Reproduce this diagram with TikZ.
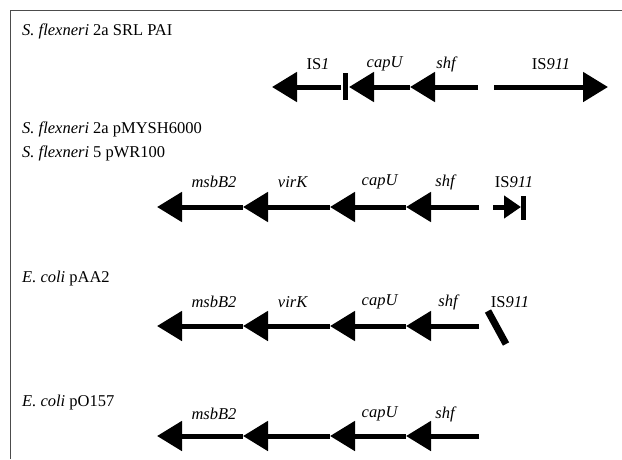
\documentclass[tikz,border=0pt]{standalone}
\usepackage{fontspec}
\setmainfont{Liberation Serif}
\usetikzlibrary{arrows.meta}
\begin{document}
\begin{tikzpicture}[x=1pt,y=-1pt,
  gene/.style={line width=5pt,-{Triangle[length=25pt,width=29pt]}},
  smallgene/.style={line width=5pt,-{Triangle[length=17pt,width=22pt]}},
  barmark/.style={line width=5pt},
  lbl/.style={font=\fontsize{16.5}{19}\selectfont, inner sep=0pt},
  ttl/.style={font=\fontsize{16.5}{19}\selectfont, anchor=west, inner sep=0pt},
  frameline/.style={line width=0.8pt, black!70}]
\useasboundingbox (0,0) rectangle (622,459);
\coordinate (fa) at (10,459); \coordinate (fb) at (10,10); \coordinate (fc) at (622,10);
\draw[frameline] (fa) -- (fb) -- (fc);

% Row 1
\node[ttl] (t1) at (22,31) {\textit{S. flexneri} 2a SRL PAI};
\coordinate (r1a) at (341,87); \coordinate (r1b) at (272,87);
\coordinate (r1c1) at (345.5,73); \coordinate (r1c2) at (345.5,100);
\coordinate (r1d) at (410,87); \coordinate (r1e) at (349,87);
\coordinate (r1f) at (478,87);
\coordinate (r1g) at (494,87); \coordinate (r1h) at (608,87);
\draw[gene] (r1a) -- (r1b);
\draw[barmark] (r1c1) -- (r1c2);
\draw[gene] (r1d) -- (r1e);
\draw[gene] (r1f) -- (r1d);
\draw[gene] (r1g) -- (r1h);
\node[lbl] (l1a) at (318,64) {IS\textit{1}};
\node[lbl] (l1b) at (385,64) {\textit{capU}};
\node[lbl] (l1c) at (447,64) {\textit{shf}};
\node[lbl] (l1d) at (551,64) {IS\textit{911}};

% Row 2
\node[ttl] (t2a) at (22,129) {\textit{S. flexneri} 2a pMYSH6000};
\node[ttl] (t2b) at (22,153) {\textit{S. flexneri} 5 pWR100};
\coordinate (r2a) at (157,207); \coordinate (r2b) at (243,207);
\coordinate (r2c) at (330,207); \coordinate (r2d) at (406,207);
\coordinate (r2e) at (479,207);
\coordinate (r2f) at (493,207); \coordinate (r2g) at (521,207);
\coordinate (r2h1) at (523.5,196); \coordinate (r2h2) at (523.5,220);
\draw[gene] (r2b) -- (r2a);
\draw[gene] (r2c) -- (r2b);
\draw[gene] (r2d) -- (r2c);
\draw[gene] (r2e) -- (r2d);
\draw[smallgene] (r2f) -- (r2g);
\draw[barmark] (r2h1) -- (r2h2);
\node[lbl] (l2a) at (214,182) {\textit{msbB2}};
\node[lbl] (l2b) at (293,182) {\textit{virK}};
\node[lbl] (l2c) at (380,182) {\textit{capU}};
\node[lbl] (l2d) at (446,182) {\textit{shf}};
\node[lbl] (l2e) at (514,182) {IS\textit{911}};

% Row 3
\node[ttl] (t3) at (22,279) {\textit{E. coli} pAA2};
\coordinate (r3a) at (157,326); \coordinate (r3b) at (243,326);
\coordinate (r3c) at (330,326); \coordinate (r3d) at (406,326);
\coordinate (r3e) at (479,326);
\coordinate (r3f) at (488,311); \coordinate (r3g) at (506,344);
\draw[gene] (r3b) -- (r3a);
\draw[gene] (r3c) -- (r3b);
\draw[gene] (r3d) -- (r3c);
\draw[gene] (r3e) -- (r3d);
\draw[line width=7pt] (r3f) -- (r3g);
\node[lbl] (l3a) at (214,302) {\textit{msbB2}};
\node[lbl] (l3b) at (293,302) {\textit{virK}};
\node[lbl] (l3c) at (380,302) {\textit{capU}};
\node[lbl] (l3d) at (449,302) {\textit{shf}};
\node[lbl] (l3e) at (510,302) {IS\textit{911}};

% Row 4
\node[ttl] (t4) at (22,403) {\textit{E. coli} pO157};
\coordinate (r4a) at (157,436); \coordinate (r4b) at (243,436);
\coordinate (r4c) at (330,436); \coordinate (r4d) at (406,436);
\coordinate (r4e) at (479,436);
\draw[gene] (r4b) -- (r4a);
\draw[gene] (r4c) -- (r4b);
\draw[gene] (r4d) -- (r4c);
\draw[gene] (r4e) -- (r4d);
\node[lbl] (l4a) at (214,414) {\textit{msbB2}};
\node[lbl] (l4c) at (380,414) {\textit{capU}};
\node[lbl] (l4d) at (446,414) {\textit{shf}};
\end{tikzpicture}
\end{document}
